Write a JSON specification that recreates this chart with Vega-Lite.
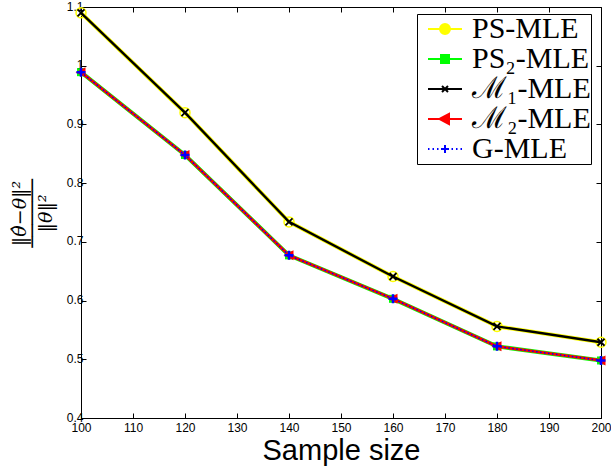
{
  "$schema": "https://vega.github.io/schema/vega-lite/v6.json",
  "width": 520,
  "height": 411,
  "autosize": {"type": "none"},
  "padding": {"left": 81, "top": 7, "right": 10, "bottom": 52},
  "background": "white",
  "config": {
    "view": {"stroke": "black", "strokeWidth": 1},
    "axis": {
      "domainColor": "black", "tickColor": "black", "labelColor": "black", "titleColor": "black",
      "grid": false, "labelFont": "Liberation Sans", "labelFontSize": 12, "labelFlush": false,
      "tickSize": -5, "domainWidth": 1, "tickWidth": 1
    }
  },
  "data": {
    "values": [
      {"series": "PS-MLE", "n": 100, "v": 1.090}, {"series": "PS-MLE", "n": 120, "v": 0.920}, {"series": "PS-MLE", "n": 140, "v": 0.734},
      {"series": "PS-MLE", "n": 160, "v": 0.641}, {"series": "PS-MLE", "n": 180, "v": 0.556}, {"series": "PS-MLE", "n": 200, "v": 0.529},
      {"series": "PS₂-MLE", "n": 100, "v": 0.989}, {"series": "PS₂-MLE", "n": 120, "v": 0.848}, {"series": "PS₂-MLE", "n": 140, "v": 0.677},
      {"series": "PS₂-MLE", "n": 160, "v": 0.603}, {"series": "PS₂-MLE", "n": 180, "v": 0.522}, {"series": "PS₂-MLE", "n": 200, "v": 0.498},
      {"series": "ℳ₁-MLE", "n": 100, "v": 1.090}, {"series": "ℳ₁-MLE", "n": 120, "v": 0.920}, {"series": "ℳ₁-MLE", "n": 140, "v": 0.734},
      {"series": "ℳ₁-MLE", "n": 160, "v": 0.641}, {"series": "ℳ₁-MLE", "n": 180, "v": 0.556}, {"series": "ℳ₁-MLE", "n": 200, "v": 0.529},
      {"series": "ℳ₂-MLE", "n": 100, "v": 0.989}, {"series": "ℳ₂-MLE", "n": 120, "v": 0.848}, {"series": "ℳ₂-MLE", "n": 140, "v": 0.677},
      {"series": "ℳ₂-MLE", "n": 160, "v": 0.603}, {"series": "ℳ₂-MLE", "n": 180, "v": 0.522}, {"series": "ℳ₂-MLE", "n": 200, "v": 0.498},
      {"series": "G-MLE", "n": 100, "v": 0.989}, {"series": "G-MLE", "n": 120, "v": 0.848}, {"series": "G-MLE", "n": 140, "v": 0.677},
      {"series": "G-MLE", "n": 160, "v": 0.603}, {"series": "G-MLE", "n": 180, "v": 0.522}, {"series": "G-MLE", "n": 200, "v": 0.498}
    ]
  },
  "layer": [
    {
      "encoding": {
        "x": {
          "field": "n", "type": "quantitative",
          "scale": {"domain": [100, 200], "nice": false, "zero": false},
          "axis": {
            "values": [100, 110, 120, 130, 140, 150, 160, 170, 180, 190, 200],
            "labelPadding": 9,
            "title": "Sample size", "titleFont": "Liberation Sans", "titleFontSize": 29,
            "titleFontWeight": "normal", "titleBaseline": "alphabetic", "titleY": 41
          }
        },
        "y": {
          "field": "v", "type": "quantitative",
          "scale": {"domain": [0.4, 1.1], "nice": false, "zero": false},
          "axis": {
            "values": [0.4, 0.5, 0.6, 0.7, 0.8, 0.9, 1.0, 1.1],
            "format": ".1~f", "labelPadding": 3, "labelOffset": -1,
            "title": ["‖θ̂−θ‖²", "──────", "‖θ‖²"],
            "titleFont": "DejaVu Serif", "titleFontSize": 19, "titleFontWeight": "normal",
            "titleFontStyle": "italic", "titleLineHeight": 13,
            "titleAngle": 270, "titleAlign": "center", "titleBaseline": "alphabetic",
            "titleX": -56, "titleY": 206
          }
        },
        "color": {
          "field": "series", "type": "nominal",
          "scale": {
            "domain": ["PS-MLE", "PS₂-MLE", "ℳ₁-MLE", "ℳ₂-MLE", "G-MLE"],
            "range": ["#ffff00", "#00ff00", "#000000", "#ff0000", "#0000ff"]
          },
          "legend": {"title": null}
        }
      },
      "layer": [
        {
          "transform": [{"filter": "datum.series === 'PS-MLE'"}],
          "mark": {"type": "line", "strokeWidth": 4,
            "point": {"shape": "M1,0A1,1,0,1,1,-1,0A1,1,0,1,1,1,0Z", "size": 100, "filled": false, "strokeWidth": 1.5, "opacity": 1}}
        },
        {
          "transform": [{"filter": "datum.series === 'PS₂-MLE'"}],
          "mark": {"type": "line", "strokeWidth": 4,
            "point": {"shape": "M-0.8,-0.8H0.8V0.8H-0.8Z", "size": 100, "filled": true, "opacity": 1}}
        },
        {
          "transform": [{"filter": "datum.series === 'ℳ₁-MLE'"}],
          "mark": {"type": "line", "strokeWidth": 2.4,
            "point": {"shape": "M-0.7,-0.7L0.7,0.7M-0.7,0.7L0.7,-0.7", "size": 100, "filled": false, "strokeWidth": 1.8, "opacity": 1}}
        },
        {
          "transform": [{"filter": "datum.series === 'ℳ₂-MLE'"}],
          "mark": {"type": "line", "strokeWidth": 2.8,
            "point": {"shape": "M-1.1,0L0.9,-1L0.9,1Z", "size": 100, "filled": true, "opacity": 1}}
        },
        {
          "transform": [{"filter": "datum.series === 'G-MLE'"}],
          "mark": {"type": "line", "strokeWidth": 1.5, "strokeDash": [1.5, 2.5],
            "point": {"shape": "M-0.9,0H0.9M0,-0.9V0.9", "size": 100, "filled": false, "strokeWidth": 2.5, "strokeDash": [1, 0], "opacity": 1}}
        },
        {
          "mark": {"type": "point", "opacity": 0, "filled": true},
          "encoding": {
            "shape": {
              "field": "series", "type": "nominal",
              "scale": {
                "domain": ["PS-MLE", "PS₂-MLE", "ℳ₁-MLE", "ℳ₂-MLE", "G-MLE"],
                "range": [
                  "M-1.7,0H-0.5M0.5,0H1.7M0.5,0A0.5,0.5,0,1,1,-0.5,0A0.5,0.5,0,1,1,0.5,0Z",
                  "M-1.7,0H1.7M-0.4,-0.4H0.4V0.4H-0.4Z",
                  "M-1.7,0H1.7M-0.3,-0.3L0.3,0.3M-0.3,0.3L0.3,-0.3",
                  "M-1.7,0H1.7M-0.55,0L0.4,-0.5L0.4,0.5Z",
                  "M-1.7,0H-1.55M-1.25,0H-1.1M-0.8,0H-0.65M0.65,0H0.8M1.1,0H1.25M1.55,0H1.7M-0.4,0H0.4M0,-0.4V0.4"
                ]
              },
              "legend": {
                "title": null, "orient": "none", "legendX": 336, "legendY": 7,
                "direction": "vertical",
                "strokeColor": "black", "fillColor": "white", "padding": 0,
                "labelFont": "Liberation Serif", "labelFontSize": 30, "labelColor": "black",
                "labelLimit": 400, "labelOffset": 12, "symbolOffset": 13, "symbolSize": 400, "rowPadding": -7,
                "symbolOpacity": 1, "symbolStrokeWidth": 2
              }
            }
          }
        }
      ]
    },
    {
      "mark": {"type": "point", "opacity": 0},
      "encoding": {
        "x": {
          "field": "n", "type": "quantitative",
          "scale": {"domain": [100, 200], "nice": false, "zero": false},
          "axis": {"orient": "top", "values": [100, 110, 120, 130, 140, 150, 160, 170, 180, 190, 200], "labels": false, "title": null, "domain": false}
        },
        "y": {
          "field": "v", "type": "quantitative",
          "scale": {"domain": [0.4, 1.1], "nice": false, "zero": false},
          "axis": {"orient": "right", "values": [0.4, 0.5, 0.6, 0.7, 0.8, 0.9, 1.0, 1.1], "labels": false, "title": null, "domain": false}
        }
      }
    }
  ],
  "resolve": {"scale": {"x": "independent", "y": "independent"}}
}
